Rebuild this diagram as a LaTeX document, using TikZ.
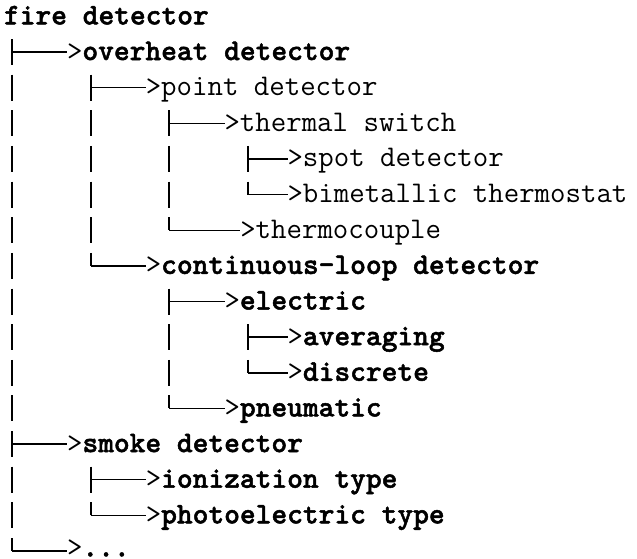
\documentclass[tikz,border=0pt]{standalone}
\usepackage{fontspec}
\newfontface\ttheavy{lmmonolt10-bold.otf}[FakeBold=1.6]
\def\cw{15.75}\def\rh{35.64}\def\xo{4}\def\yo{16.4}
\newcommand\hb[1]{{\ttheavy\fontsize{30}{34}\selectfont #1}}
\newcommand\treechild[6][8]{%
  \coordinate (b#2) at ({\xo+\cw*(#4+0.5)},{\yo+\rh*#3});
  \node[lbl] (n#2) at ({\xo+\cw*#5},{\yo+\rh*#3+#1}) {#6};
  \draw[hline] (b#2) -- (b#2 -| n#2.west);}
\begin{document}
\begin{tikzpicture}[x=1pt,y=-1pt,
  lbl/.style={anchor=base west, inner sep=0pt, outer sep=0pt, font=\ttfamily\fontsize{30}{34}\selectfont},
  vline/.style={line width=1.8pt, dash pattern=on 26pt off 9.64pt},
  hline/.style={line width=1.4pt}]
\useasboundingbox (0,0) rectangle (637,558);
\node[lbl] (n0) at (\xo,{\yo+8}) {\hb{fire detector}};
\treechild{1}{1}{0}{4}{>\hb{overheat detector}}
\treechild{2}{2}{5}{9}{>point detector}
\treechild{3}{3}{10}{14}{>thermal switch}
\treechild{4}{4}{15}{18}{>spot detector}
\treechild{5}{5}{15}{18}{>bimetallic thermostat}
\treechild{6}{6}{10}{15}{>thermocouple}
\treechild{7}{7}{5}{9}{>\hb{continuous-loop detector}}
\treechild{8}{8}{10}{14}{>\hb{electric}}
\treechild{9}{9}{15}{18}{>\hb{averaging}}
\treechild{10}{10}{15}{18}{>\hb{discrete}}
\treechild{11}{11}{10}{14}{>\hb{pneumatic}}
\treechild{12}{12}{0}{4}{>\hb{smoke detector}}
\treechild{13}{13}{5}{9}{>\hb{ionization type}}
\treechild{14}{14}{5}{9}{>\hb{photoelectric type}}
\treechild[5.5]{15}{15}{0}{4}{>\hb{...}}
\draw[vline] ([yshift=13pt]b1) -- (b15);
\draw[vline] ([yshift=13pt]b2) -- (b7);
\draw[vline] ([yshift=13pt]b3) -- (b6);
\draw[vline] ([yshift=13pt]b4) -- (b5);
\draw[vline] ([yshift=13pt]b8) -- (b11);
\draw[vline] ([yshift=13pt]b9) -- (b10);
\draw[vline] ([yshift=13pt]b13) -- (b14);
\end{tikzpicture}
\end{document}
